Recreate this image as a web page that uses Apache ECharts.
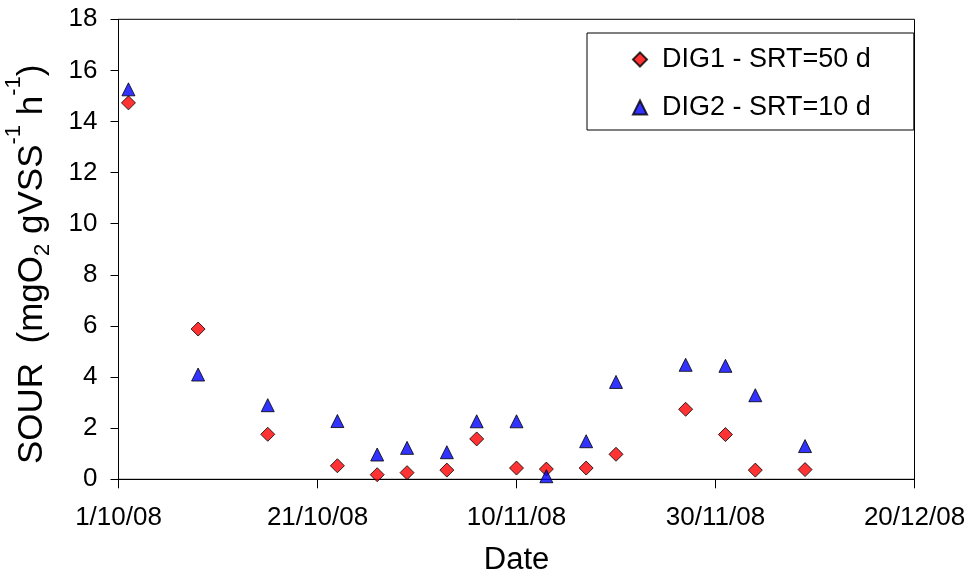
<!DOCTYPE html>
<html>
<head>
<meta charset="utf-8">
<script src="https://cdn.jsdelivr.net/npm/echarts@6/dist/echarts.min.js"></script>
<style>
html,body{margin:0;padding:0;background:#fff;}
#chart{width:971px;height:579px;}
</style>
</head>
<body>
<div id="chart"></div>
<script>
// ---- Data ----
const startDate = '2008-10-01';
const dates = ['2008-10-02','2008-10-09','2008-10-16','2008-10-23','2008-10-27','2008-10-30','2008-11-03','2008-11-06','2008-11-10','2008-11-13','2008-11-17','2008-11-20','2008-11-27','2008-12-01','2008-12-04','2008-12-09'];
const dig1 = [14.73, 5.88, 1.76, 0.53, 0.18, 0.26, 0.36, 1.58, 0.44, 0.40, 0.44, 0.98, 2.74, 1.75, 0.36, 0.38];
const dig2 = [15.26, 4.10, 2.90, 2.28, 0.97, 1.23, 1.06, 2.27, 2.27, 0.12, 1.49, 3.81, 4.48, 4.44, 3.29, 1.30];
const xTickLabels = ['1/10/08','21/10/08','10/11/08','30/11/08','20/12/08'];
const seriesNames = ['DIG1 - SRT=50 d','DIG2 - SRT=10 d'];

const DAY = 86400000;
const t0 = Date.parse(startDate + 'T00:00:00Z');
const dayOf = d => Math.round((Date.parse(d + 'T00:00:00Z') - t0) / DAY);
const pts = arr => arr.map((v, i) => [dayOf(dates[i]), v]);

const FONT = "'Liberation Sans', Arial, sans-serif";
const chart = echarts.init(document.getElementById('chart'), null, {renderer: 'canvas'});
chart.setOption({
  animation: false,
  backgroundColor: '#fff',
  grid: {left: 118.5, right: 56.5, top: 19.3, bottom: 99.7, containLabel: false, outerBoundsMode: 'none',
         show: true, borderColor: '#000', borderWidth: 1, backgroundColor: 'transparent'},
  xAxis: {
    type: 'value', min: 0, max: 80, interval: 20,
    name: 'Date', nameLocation: 'middle', nameGap: 66,
    nameTextStyle: {fontFamily: FONT, fontSize: 31, color: '#000'},
    axisLine: {lineStyle: {color: '#000', width: 1}},
    axisTick: {show: true, inside: false, length: 9, lineStyle: {color: '#000'}},
    axisLabel: {fontFamily: FONT, fontSize: 26, color: '#000', margin: 26,
      formatter: v => xTickLabels[Math.round(v / 20)] || ''},
    splitLine: {show: false}
  },
  yAxis: {
    type: 'value', min: 0, max: 18, interval: 2,
    name: 'SOUR  (mgO{sub|2} gVSS{sup|-1} h{sup|-1})', nameLocation: 'middle', nameGap: 56, nameRotate: 90,
    nameTextStyle: {fontFamily: FONT, fontSize: 35, color: '#000', padding: [0, 0, 0, -30],
      rich: {
        sub: {fontFamily: FONT, fontSize: 22, color: '#000', padding: [20, 0, 0, 0]},
        sup: {fontFamily: FONT, fontSize: 22, color: '#000', padding: [0, 0, 38, 0]}
      }},
    axisLine: {lineStyle: {color: '#000', width: 1}},
    axisTick: {show: true, inside: false, length: 8, lineStyle: {color: '#000'}},
    axisLabel: {fontFamily: FONT, fontSize: 26, color: '#000', margin: 21},
    splitLine: {show: false}
  },
  legend: {
    orient: 'vertical', left: 587, top: 33,
    padding: [13, 43, 9, 45],
    itemGap: 21, itemWidth: 14, itemHeight: 14,
    borderColor: '#000', borderWidth: 1, backgroundColor: '#fff',
    textStyle: {fontFamily: FONT, fontSize: 27, color: '#000', padding: [0, 0, 0, 10]},
    data: seriesNames
  },
  series: [
    {name: seriesNames[0], type: 'scatter', symbol: 'diamond', symbolSize: 14,
     itemStyle: {color: '#FF0000', borderColor: '#000', borderWidth: 1},
     data: pts(dig1), z: 2},
    {name: seriesNames[1], type: 'scatter', symbol: 'triangle', symbolSize: 13,
     itemStyle: {color: '#0000FF', borderColor: '#000', borderWidth: 1},
     data: pts(dig2), z: 3}
  ]
});
</script>
</body>
</html>
